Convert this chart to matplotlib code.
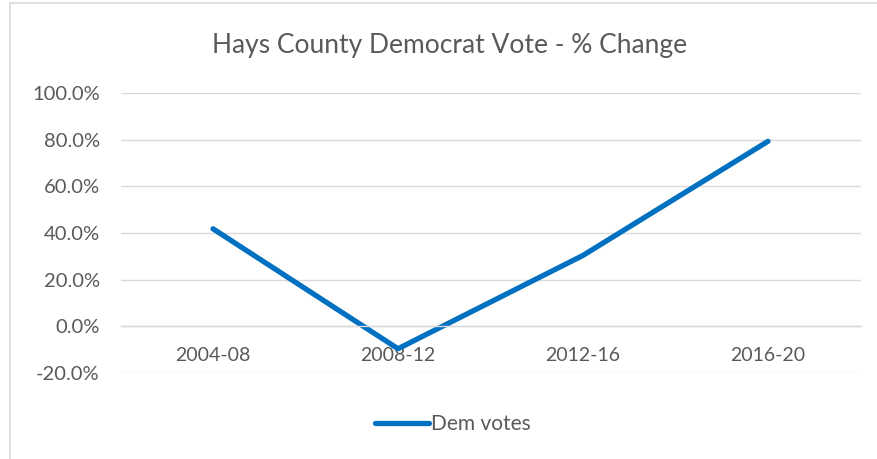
import matplotlib
matplotlib.use('Agg')
import matplotlib.pyplot as plt
import matplotlib.ticker as ticker
from matplotlib.patches import Rectangle

# ── data ──
periods = ['2004-08', '2008-12', '2012-16', '2016-20']
dem_change = [41.8, -9.6, 30.4, 79.3]
y_ticks = [-20, 0, 20, 40, 60, 80, 100]

W, H = 877, 459
plt.rcParams['font.family'] = ['Lato', 'DejaVu Sans']
txt = '#595959'
grid = '#d9d9d9'
blue = '#0070C0'

fig = plt.figure(figsize=(W / 100, H / 100), dpi=100)

# chart border (only top/left visible in the crop)
fig.patches.append(Rectangle((10 / W, -0.1), 1.2, 1 - 3 / H + 0.1, transform=fig.transFigure,
                             fill=False, edgecolor=grid, linewidth=1.2))

ax = fig.add_axes([120.5 / W, 1 - 373 / H, 740 / W, 280 / H])
x = range(len(periods))
ax.plot(x, dem_change, color=blue, linewidth=3.8, solid_capstyle='round',
        solid_joinstyle='round', label='Dem votes')

ax.set_xlim(-0.5, len(periods) - 0.5)
ax.set_ylim(-20, 100)
ax.set_yticks(y_ticks)
ax.yaxis.set_major_formatter(ticker.FuncFormatter(lambda v, p: f'{v:.1f}%'))
ax.set_xticks(list(x))
ax.set_xticklabels(periods)

for s in ['top', 'right', 'left']:
    ax.spines[s].set_visible(False)
ax.spines['bottom'].set_position(('data', 0))
ax.spines['bottom'].set_color(grid)
ax.spines['bottom'].set_linewidth(1.0)
ax.set_axisbelow(True)
ax.grid(axis='y', color=grid, linewidth=1.0)
ax.tick_params(axis='y', length=0, colors=txt, labelsize=14.5, pad=15)
ax.tick_params(axis='x', length=0, colors=txt, labelsize=14, pad=15)

fig.text(0.513, 1 - 45 / H, 'Hays County Democrat Vote - % Change', ha='center', va='center',
         fontsize=19, color=txt)

leg = fig.legend(loc='center', bbox_to_anchor=(453 / W, 1 - 424 / H), frameon=False,
                 fontsize=15, handlelength=2.6, handletextpad=0.1)
for t in leg.get_texts():
    t.set_color(txt)

fig.savefig('out.png', dpi=100)
